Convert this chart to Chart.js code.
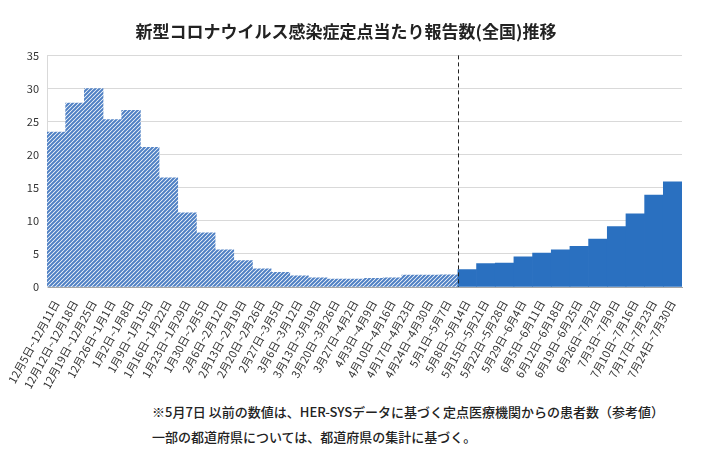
<!DOCTYPE html>
<html>
<head>
<meta charset="utf-8">
<script src="https://cdn.jsdelivr.net/npm/chart.js@4/dist/chart.umd.min.js"></script>
<style>
	body { margin: 0; background: #fff; }
	#wrap { position: relative; width: 715px; height: 457px; }
	#wrap canvas { position: absolute; left: 0; top: 0; }
	.note { position: absolute; left: 152px; font: 500 13px "Noto Sans CJK JP", sans-serif; color: #222; white-space: nowrap; }
</style>
</head>
<body>
<div id="wrap">
	<canvas id="chart" width="715" height="400"></canvas>
	<div class="note" style="top: 402px">※5月7日 以前の数値は、HER-SYSデータに基づく定点医療機関からの患者数（参考値）</div>
	<div class="note" style="top: 427px">一部の都道府県については、都道府県の集計に基づく。</div>
</div>
<script>
// week labels (HER-SYS period, then sentinel surveillance period)
var weeksBefore = ['12月5日~12月11日', '12月12日~12月18日', '12月19日~12月25日', '12月26日~1月1日',
	'1月2日~1月8日', '1月9日~1月15日', '1月16日~1月22日', '1月23日~1月29日', '1月30日~2月5日',
	'2月6日~2月12日', '2月13日~2月19日', '2月20日~2月26日', '2月27日~3月5日', '3月6日~3月12日',
	'3月13日~3月19日', '3月20日~3月26日', '3月27日~4月2日', '4月3日~4月9日', '4月10日~4月16日',
	'4月17日~4月23日', '4月24日~4月30日', '5月1日~5月7日']
var weeksAfter = ['5月8日~5月14日', '5月15日~5月21日', '5月22日~5月28日', '5月29日~6月4日',
	'6月5日~6月11日', '6月12日~6月18日', '6月19日~6月25日', '6月26日~7月2日', '7月3日~7月9日',
	'7月10日~7月16日', '7月17日~7月23日', '7月24日~7月30日']

var valuesBefore = [23.4, 27.8, 30.0, 25.3, 26.7, 21.1, 16.5, 11.2, 8.2, 5.6, 4.0, 2.75, 2.2, 1.7,
	1.4, 1.2, 1.2, 1.3, 1.4, 1.8, 1.8, 1.85]
var valuesAfter = [2.63, 3.55, 3.63, 4.55, 5.11, 5.60, 6.13, 7.24, 9.14, 11.04, 13.91, 15.91]

var yTicks = [0, 5, 10, 15, 20, 25, 30, 35]

var font = '"Noto Sans CJK JP", sans-serif'

// diagonal hatch for the reference values
function hatch() {
	var c = document.createElement('canvas')
	c.width = 4; c.height = 4
	var g = c.getContext('2d')
	g.fillStyle = '#ffffff'
	g.fillRect(0, 0, 4, 4)
	g.strokeStyle = '#4f80c4'
	g.lineWidth = 2
	g.beginPath()
	g.moveTo(-1, 5); g.lineTo(5, -1)
	g.moveTo(-1, 1); g.lineTo(1, -1)
	g.moveTo(3, 5); g.lineTo(5, 3)
	g.stroke()
	return g.createPattern(c, 'repeat')
}

var pattern = hatch()
var colors = valuesBefore.map(function() { return pattern })
	.concat(valuesAfter.map(function() { return '#2a70c0' }))

var dividerLine = {
	id: 'divider',
	afterDatasetsDraw: function(chart) {
		var x = chart.scales.x
		var area = chart.chartArea
		var px = (x.getPixelForValue(valuesBefore.length - 1) + x.getPixelForValue(valuesBefore.length)) / 2
		var ctx = chart.ctx
		ctx.save()
		ctx.strokeStyle = '#222'
		ctx.lineWidth = 1
		ctx.setLineDash([4, 3])
		ctx.beginPath()
		ctx.moveTo(Math.round(px) + 0.5, area.top)
		ctx.lineTo(Math.round(px) + 0.5, area.bottom)
		ctx.stroke()
		ctx.restore()
	}
}

new Chart(document.getElementById('chart').getContext('2d'), {
	type: 'bar',
	data: {
		labels: weeksBefore.concat(weeksAfter),
		datasets: [{
			data: valuesBefore.concat(valuesAfter),
			backgroundColor: colors,
			borderWidth: 0,
			categoryPercentage: 1,
			barPercentage: 1
		}]
	},
	options: {
		responsive: false,
		animation: false,
		layout: { padding: { left: 10, right: 33, top: 0, bottom: 0 } },
		plugins: {
			legend: { display: false },
			tooltip: { enabled: false },
			title: {
				display: true,
				text: '新型コロナウイルス感染症定点当たり報告数(全国)推移',
				color: '#222',
				font: { family: font, size: 17, weight: 'bold' },
				padding: { top: 21, bottom: 14 }
			}
		},
		scales: {
			x: {
				grid: { display: false },
				border: { color: '#a6a6a6' },
				afterFit: function(scale) { scale.height = 113 },
				ticks: {
					autoSkip: false,
					maxRotation: 61,
					minRotation: 61,
					color: '#333',
					padding: 3,
					font: { family: font, size: 11 }
				}
			},
			y: {
				min: 0,
				max: 35,
				afterBuildTicks: function(scale) {
					scale.ticks = yTicks.map(function(v) { return { value: v } })
				},
				afterFit: function(scale) { scale.width = 37 },
				grid: { color: '#d9d9d9', drawTicks: false },
				border: { color: '#d9d9d9' },
				ticks: {
					color: '#333',
					padding: 8,
					font: { family: font, size: 11 }
				}
			}
		}
	},
	plugins: [dividerLine]
})
</script>
</body>
</html>
